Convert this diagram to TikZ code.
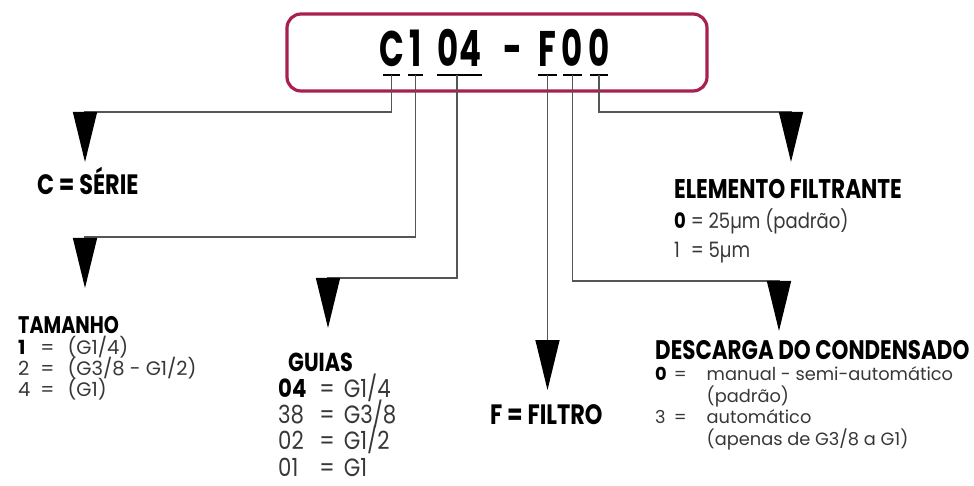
\documentclass[tikz,border=0pt]{standalone}
\usepackage{fontspec}
\setmainfont{Poppins}[FakeStretch=0.85]
\newfontfamily\listfont{Poppins}
\newfontfamily\headfont{Poppins}[FakeStretch=0.8]
\newfontfamily\codefont{Poppins}[FakeStretch=0.65]
\usetikzlibrary{arrows.meta}
\usetikzlibrary{positioning}
\definecolor{boxred}{RGB}{168,32,82}
\definecolor{linegray}{RGB}{85,85,85}
\definecolor{entrygray}{RGB}{55,55,55}
\newcommand\dimtext[1]{\smash{\color{entrygray}#1}}
\newcommand\keytext[1]{\smash{\bfseries #1}}
\newcommand\headtext[2]{{\headfont\bfseries\fontsize{#1}{#1}\selectfont #2}}

\begin{document}
\begin{tikzpicture}[x=1pt, y=-1pt,
    code/.style={font=\codefont\bfseries\fontsize{50}{50}\selectfont, inner sep=0, outer sep=0, text depth=0pt, anchor=base},
    uline/.style={line width=2.2pt, black},
    conn/.style={draw=linegray, line width=1.4pt},
    bigtip/.style={-{Triangle[width=24pt,length=50pt,color=black]}},
    infotext/.style={inner sep=0, anchor=base west, align=left}]
    \useasboundingbox (0,0) rectangle (974,486);
    %% code box
    \node[draw=boxred, line width=3.2pt, rounded corners=14pt, minimum width=420pt, minimum height=77pt] (box) at (497,52.5) {};
    \node[code] (c) at (391.5,67) {C};
    \node[code] (n1) at (415.5,67) {1};
    \node[code] (n04) at (459.5,67) {04};
    \node[code] (dash) at (512.5,67) {-};
    \node[code] (f) at (547.5,67) {F};
    \node[code] (z1) at (572.5,67) {0};
    \node[code] (z2) at (599,67) {0};
    %% -- underlines
    \foreach \n/\w in {c/8.5, n1/7.5, n04/22.5, f/9.5, z1/9.5, z2/9}
        \draw[uline] ([xshift=-\w pt,yshift=-8pt]\n.south) -- ([xshift=\w pt,yshift=-8pt]\n.south);
    %% labels
    \node[infotext] (serie) at (37,195) {\headtext{28}{C = SÉRIE}};
    \node[infotext] (tamanho) at (18,333) {\listfont\fontsize{19.5}{21}\selectfont
        \begin{tabular}[t]{@{}l@{\hspace{10pt}}l@{\hspace{13pt}}l@{}}
        \multicolumn{3}{@{}l@{}}{\headtext{24}{TAMANHO}}\\
        \keytext{1} & \dimtext{=} & \dimtext{(G1/4)}\\
        \dimtext{2} & \dimtext{=} & \dimtext{(G3/8 - G1/2)}\\
        \dimtext{4} & \dimtext{=} & \dimtext{(G1)}
        \end{tabular}};
    \node[infotext] (guias) at (278,371) {\fontsize{25}{26.3}\selectfont
        \begin{tabular}[t]{@{}l@{\hspace{13pt}}l@{\hspace{9pt}}l@{}}
        \multicolumn{3}{@{\hspace{10pt}}l@{}}{\headtext{26}{GUIAS}}\\
        \keytext{04} & \dimtext{=} & \dimtext{G1/4}\\
        \dimtext{38} & \dimtext{=} & \dimtext{G3/8}\\
        \dimtext{02} & \dimtext{=} & \dimtext{G1/2}\\
        \dimtext{01} & \dimtext{=} & \dimtext{G1}
        \end{tabular}};
    \node[infotext] (filtro) at (490,424) {\headtext{28}{F = FILTRO}};
    \node[infotext] (elemento) at (674,199) {\fontsize{21.2}{29.5}\selectfont
        \begin{tabular}[t]{@{}l@{\ }l@{\ }l@{}}
        \multicolumn{3}{@{}l@{}}{\headtext{27}{ELEMENTO FILTRANTE}}\\
        \keytext{0} & \dimtext{=} & \dimtext{25µm (padrão)}\\
        \dimtext{1} & \dimtext{=} & \dimtext{5µm}
        \end{tabular}};
    \node[infotext] (descarga) at (655,359) {\listfont\fontsize{17.8}{21.5}\selectfont
        \begin{tabular}[t]{@{}l@{\hspace{7pt}}l@{\hspace{20pt}}l@{}}
        \multicolumn{3}{@{}l@{}}{\headtext{26.8}{DESCARGA DO CONDENSADO}}\\
        \keytext{0} & \dimtext{=} & \dimtext{manual - semi-automático}\\
         & & \dimtext{(padrão)}\\
        \dimtext{3} & \dimtext{=} & \dimtext{automático}\\
         & & \dimtext{(apenas de G3/8 a G1)}
        \end{tabular}};
    %% connectors
    \coordinate (kC) at (85,112);   \coordinate (tC) at (85,162);
    \coordinate (kT) at (85,237);   \coordinate (tT) at (85,288);
    \coordinate (kG) at (328,278);  \coordinate (tG) at (328,328);
    \coordinate (tF) at (547.5,390);
    \coordinate (kD) at (779,281);  \coordinate (tD) at (779,331);
    \coordinate (kE) at (791,112);  \coordinate (tE) at (791,162);
    \draw[conn, bigtip] ([yshift=-8pt]c.south) |- (kC) -- (tC);
    \draw[conn, bigtip] ([yshift=-8pt]n1.south) |- (kT) -- (tT);
    \draw[conn, bigtip] ([xshift=-2.5pt,yshift=-8pt]n04.south) |- (kG) -- (tG);
    \draw[conn, bigtip] ([yshift=-8pt]f.south) -- (tF);
    \draw[conn, bigtip] ([yshift=-8pt]z1.south) |- (kD) -- (tD);
    \draw[conn, bigtip] ([yshift=-8pt]z2.south) |- (kE) -- (tE);
\end{tikzpicture}
\end{document}
